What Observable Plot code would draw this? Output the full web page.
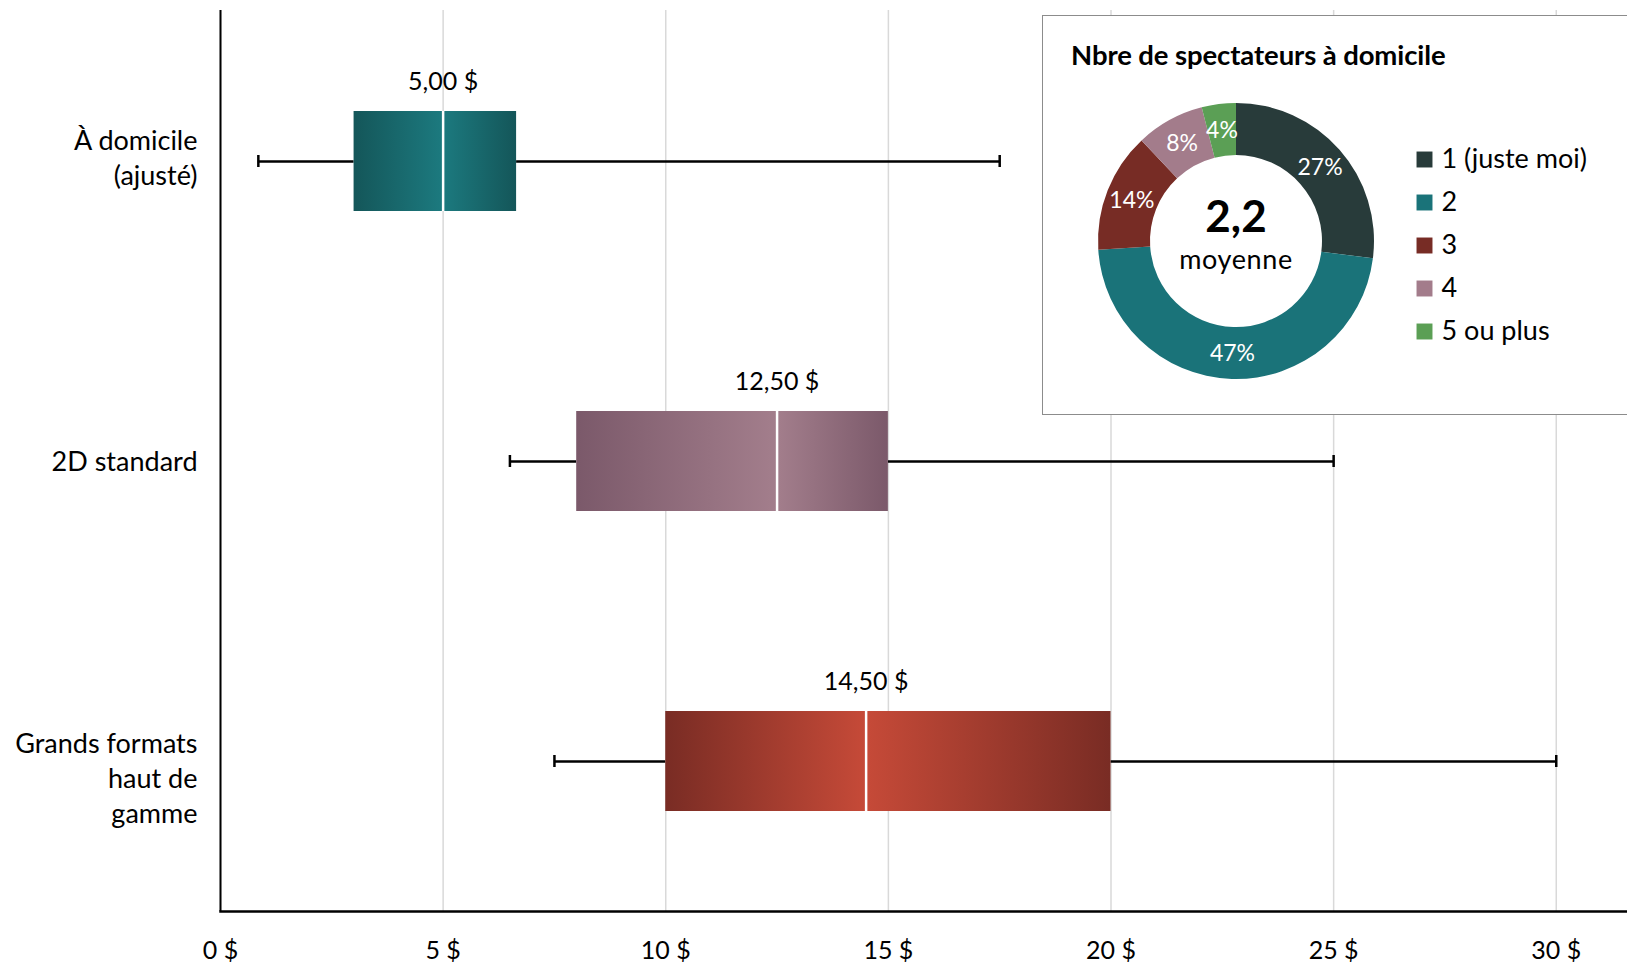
<!DOCTYPE html>
<html>
<head>
<meta charset="utf-8">
<script src="https://cdn.jsdelivr.net/npm/d3@7"></script>
<script src="https://cdn.jsdelivr.net/npm/@observablehq/plot@0.6"></script>
<style>
  html, body { margin: 0; padding: 0; background: #fff; overflow: hidden; }
  #wrap { position: relative; width: 1627px; height: 963px; font-family: Lato, "Open Sans", sans-serif; }
  #inset { position: absolute; left: 1042px; top: 15px; width: 640px; height: 400px;
           border: 1.5px solid #8c8c8c; background: #fff; box-sizing: border-box; }
  #inset-title { position: absolute; left: 28px; top: 22px; font-size: 27.5px; font-weight: 700;
                 line-height: 34px; color: #000; white-space: nowrap; letter-spacing: -0.1px; }
  #donut { position: absolute; left: 0; top: 0; }
</style>
</head>
<body>
<div id="wrap">
  <div id="main"></div>
  <div id="inset">
    <div id="inset-title">Nbre de spectateurs à domicile</div>
    <div id="donut"></div>
  </div>
</div>
<script>
// ---- Box plot data ----
const categories = ["À domicile\n(ajusté)", "2D standard", "Grands formats\nhaut de\ngamme"];
const mins    = [0.85, 6.5, 7.5];
const q1s     = [3.0, 8.0, 10.0];
const medians = [5.0, 12.5, 14.5];
const q3s     = [6.65, 15.0, 20.0];
const maxs    = [17.5, 25.0, 30.0];
const edgeColors   = ["#145659", "#7b596a", "#792c24"];
const centerColors = ["#1c7a7f", "#a37e8c", "#c64a38"];
const xTicks = [0, 5, 10, 15, 20, 25, 30];

// ---- Donut data ----
const viewerGroups = ["1 (juste moi)", "2", "3", "4", "5 ou plus"];
const viewerShares = [27, 47, 14, 8, 4];
const viewerColors = ["#283b3a", "#1a7379", "#772c25", "#a37c8b", "#5b9f55"];
const meanViewers = "2,2";
const meanLabel = "moyenne";

const rows = categories.map((cat, i) => ({
  cat, i, min: mins[i], q1: q1s[i], med: medians[i], q3: q3s[i], max: maxs[i]
}));
const fmt = v => d3.format(".2f")(v).replace(".", ",") + " $";
const labelShift = [-5, -2, 15];

const main = Plot.plot({
  width: 1627, height: 963,
  marginLeft: 220, marginRight: 0, marginTop: 10, marginBottom: 52,
  style: { fontFamily: "Lato, 'Open Sans', sans-serif", fontSize: "25px", color: "#000", background: "white" },
  x: { domain: [0, 31.6] },
  y: { domain: categories, padding: 0, axis: null },
  marks: [
    Plot.gridX(xTicks, { stroke: "#d9d9d9", strokeOpacity: 1, strokeWidth: 1.5 }),
    Plot.axisX(xTicks, { tickSize: 0, tickPadding: 30, tickFormat: d => `${d} $`, fontSize: 25, fill: "#000" }),
    Plot.ruleY(rows, { y: "cat", x1: "min", x2: "q1", stroke: "#000", strokeWidth: 2.5 }),
    Plot.ruleY(rows, { y: "cat", x1: "q3", x2: "max", stroke: "#000", strokeWidth: 2.5 }),
    Plot.tickX(rows, { x: "min", y: "cat", insetTop: 144, insetBottom: 144, stroke: "#000", strokeWidth: 2.5 }),
    Plot.tickX(rows, { x: "max", y: "cat", insetTop: 144, insetBottom: 144, stroke: "#000", strokeWidth: 2.5 }),
    ...rows.map(r => Plot.barX([r], { x1: "q1", x2: "q3", y: "cat", insetTop: 100, insetBottom: 100, fill: `url(#grad${r.i})` })),
    Plot.tickX(rows, { x: "med", y: "cat", insetTop: 100, insetBottom: 100, stroke: "white", strokeWidth: 2.5 }),
    Plot.text(rows, { x: "med", y: "cat", text: d => fmt(d.med), dy: -80, fontSize: 25, fill: "#000" }),
    ...rows.map(r => Plot.text([r], { frameAnchor: "left", y: "cat", text: "cat", textAnchor: "end", dx: -23, dy: labelShift[r.i], lineHeight: 1.3, fontSize: 27, fill: "#000" })),
    Plot.ruleX([0], { stroke: "#000", strokeWidth: 2 }),
    Plot.frame({ anchor: "bottom", stroke: "#000", strokeWidth: 2.5 })
  ]
});

// gradients for boxes
const defs = d3.select(main).insert("defs", ":first-child");
rows.forEach(r => {
  const t = (r.med - r.q1) / (r.q3 - r.q1);
  const g = defs.append("linearGradient").attr("id", `grad${r.i}`).attr("x1", 0).attr("x2", 1).attr("y1", 0).attr("y2", 0);
  g.append("stop").attr("offset", 0).attr("stop-color", edgeColors[r.i]);
  g.append("stop").attr("offset", t).attr("stop-color", centerColors[r.i]);
  g.append("stop").attr("offset", 1).attr("stop-color", edgeColors[r.i]);
});
document.getElementById("main").append(main);

// ---- Donut ----
const slices = viewerGroups.map((group, i) => ({ group, share: viewerShares[i], color: viewerColors[i] }));
const cx = 193, cy = 225, rIn = 86, rOut = 138;

function donutMark() {
  const g = d3.create("svg:g").attr("transform", `translate(${cx},${cy})`);
  const arcs = d3.pie().sort(null).value(d => d.share)(slices);
  const arc = d3.arc().innerRadius(rIn).outerRadius(rOut);
  g.selectAll("path").data(arcs).join("path").attr("d", arc).attr("fill", d => d.data.color);
  g.selectAll("text.pct").data(arcs).join("text").attr("class", "pct")
    .attr("transform", d => `translate(${arc.centroid(d)})`)
    .attr("text-anchor", "middle").attr("dy", "0.35em")
    .attr("fill", "white").attr("font-size", 23)
    .text(d => `${d.data.share}%`);
  g.append("text").attr("text-anchor", "middle").attr("y", -24).attr("dy", "0.35em")
    .attr("font-size", 44).attr("font-weight", 700).attr("fill", "#000").text(meanViewers);
  g.append("text").attr("text-anchor", "middle").attr("y", 19).attr("dy", "0.35em")
    .attr("font-size", 27).attr("fill", "#000").attr("letter-spacing", "0.6px").text(meanLabel);
  return g.node();
}

const donut = Plot.plot({
  width: 600, height: 398, margin: 0,
  style: { fontFamily: "Lato, 'Open Sans', sans-serif", fontSize: "27px", background: "transparent", overflow: "visible" },
  x: { type: "identity", axis: null },
  y: { type: "point", domain: viewerGroups, range: [143, 315], padding: 0, axis: null },
  color: { type: "identity" },
  marks: [
    donutMark,
    Plot.dot(slices, { x: () => 381, y: "group", symbol: "square", r: 9, fill: "color", stroke: "none" }),
    Plot.text(slices, { x: () => 398, y: "group", text: "group", textAnchor: "start", fontSize: 27, fill: "#000" })
  ]
});
document.getElementById("donut").append(donut);
</script>
</body>
</html>
